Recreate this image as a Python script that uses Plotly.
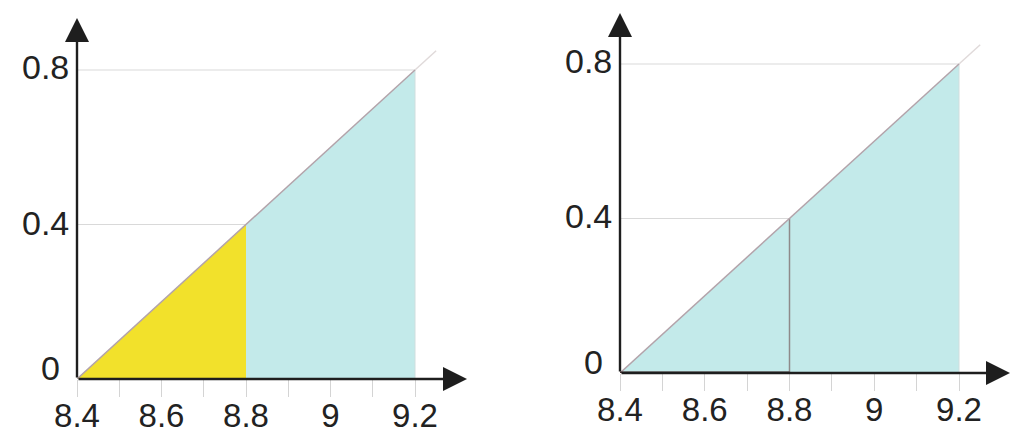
import plotly.graph_objects as go

# ---- data ----
x_ticks = [8.4, 8.5, 8.6, 8.7, 8.8, 8.9, 9.0, 9.1, 9.2]
x_tick_text = ["8.4", "", "8.6", "", "8.8", "", "9", "", "9.2"]
y_ticks = [0, 0.4, 0.8]
y_tick_text = ["0", "0.4", "0.8"]
x_start, x_split, x_end = 8.4, 8.8, 9.2
y_start, y_split, y_end = 0.0, 0.4, 0.8
x_ext, y_ext = 9.25, 0.85

OFF = 8  # page body margin
W, H = 1025 - 2 * OFF, 441 - 2 * OFF
YELLOW = "#f2e12b"
BLUE = "#c3eaea"
GRID = "#d9d9d9"
DIAG = "#b3a3aa"
DIAG_LIGHT = "#e0dada"
AXIS = "#1e1e1e"
XFONT = dict(family="Liberation Sans, Arial, sans-serif", size=33, color="#222")
YFONT = dict(family="Liberation Sans, Arial, sans-serif", size=34, color="#222")
# label offsets (style): the "0" label sits higher and further left in the original
Y_LABEL_SHIFT_UP = [11, 2, 3]
Y_LABEL_GAP = [15, 6, 6]

fig = go.Figure()

def add_panel(xa, ya, left_px, tip_px_x, x92_px, base_px, top08_px, tip_px_y, yellow):
    left_px, tip_px_x, x92_px = left_px - OFF, tip_px_x - OFF, x92_px - OFF
    base_px, top08_px, tip_px_y = base_px - OFF, top08_px - OFF, tip_px_y - OFF
    xr = "x" if xa == 1 else f"x{xa}"
    yr = "y" if ya == 1 else f"y{ya}"
    xscale = (x92_px - left_px) / (x_end - x_start)
    yscale = (base_px - top08_px) / (y_end - y_start)
    xmax = x_start + (tip_px_x - left_px) / xscale
    ymax = y_start + (base_px - tip_px_y) / yscale
    xkey = "xaxis" if xa == 1 else f"xaxis{xa}"
    ykey = "yaxis" if ya == 1 else f"yaxis{ya}"
    fig.update_layout(**{
        xkey: dict(domain=[left_px / W, tip_px_x / W], range=[x_start, xmax],
                   anchor=yr, showgrid=False, zeroline=False, showline=False, automargin=False,
                   tickvals=x_ticks, ticktext=x_tick_text, ticks="outside",
                   ticklen=17, tickwidth=1, tickcolor="#d4d4d4", tickfont=XFONT,
                   ticklabelstandoff=-10),
        ykey: dict(domain=[(H - base_px) / H, (H - tip_px_y) / H], range=[y_start, ymax],
                   anchor=xr, showgrid=False, zeroline=False, showline=False, automargin=False,
                   tickvals=y_ticks, showticklabels=False, ticks=""),
    })
    common = dict(xaxis=xr, yaxis=yr, showlegend=False, hoverinfo="skip", cliponaxis=False)
    if yellow:
        fig.add_trace(go.Scatter(x=[x_start, x_split, x_split, x_start], y=[y_start, y_start, y_split, y_start],
                                 fill="toself", fillcolor=YELLOW, mode="lines", line=dict(width=0), **common))
        fig.add_trace(go.Scatter(x=[x_split, x_split, x_end, x_end, x_split], y=[y_start, y_split, y_end, y_start, y_start],
                                 fill="toself", fillcolor=BLUE, mode="lines", line=dict(width=0), **common))
    else:
        fig.add_trace(go.Scatter(x=[x_start, x_end, x_end, x_start], y=[y_start, y_end, y_start, y_start],
                                 fill="toself", fillcolor=BLUE, mode="lines", line=dict(width=0), **common))
        fig.add_trace(go.Scatter(x=[x_split, x_split], y=[y_start, y_split], mode="lines",
                                 line=dict(color="#8e8a8a", width=1.5), **common))
    # edge at 9.2
    fig.add_trace(go.Scatter(x=[x_end, x_end], y=[y_start, y_end], mode="lines",
                             line=dict(color="#cfdede", width=1), **common))
    # horizontal guides
    for yv in [y_split, y_end]:
        fig.add_trace(go.Scatter(x=[x_start, x_start + (yv - y_start)], y=[yv, yv], mode="lines",
                                 line=dict(color=GRID, width=1.2), **common))
    # diagonal
    fig.add_trace(go.Scatter(x=[x_end, x_ext], y=[y_end, y_ext], mode="lines",
                             line=dict(color=DIAG_LIGHT, width=1.5), **common))
    fig.add_trace(go.Scatter(x=[x_start, x_end], y=[y_start, y_end], mode="lines",
                             line=dict(color=DIAG, width=1.5), **common))
    if not yellow:
        fig.add_trace(go.Scatter(x=[x_start, x_split], y=[y_start, y_start], mode="lines",
                                 line=dict(color="#4a3030", width=3), **common))
    # y tick labels
    for v, t, up, gap in zip(y_ticks, y_tick_text, Y_LABEL_SHIFT_UP, Y_LABEL_GAP):
        fig.add_annotation(x=x_start, y=v, xref=xr, yref=yr, text=t, showarrow=False,
                           xanchor="right", yanchor="middle", xshift=-gap, yshift=up, font=YFONT)
    # axes with arrows
    for (hx, hy) in [(xmax, y_start), (x_start, ymax)]:
        fig.add_annotation(x=hx, y=hy, ax=x_start, ay=y_start, xref=xr, yref=yr, axref=xr, ayref=yr,
                           text="", showarrow=True, arrowhead=2, arrowsize=2, arrowwidth=2.4,
                           arrowcolor=AXIS, standoff=0, startstandoff=0)

add_panel(1, 1, 77, 467, 415, 379, 70, 18, True)
add_panel(2, 2, 620, 1010, 959, 373, 64, 13, False)

fig.update_layout(width=W, height=H, margin=dict(l=0, r=0, t=0, b=0),
                  paper_bgcolor="white", plot_bgcolor="white", showlegend=False)
fig.write_html("out.html")
